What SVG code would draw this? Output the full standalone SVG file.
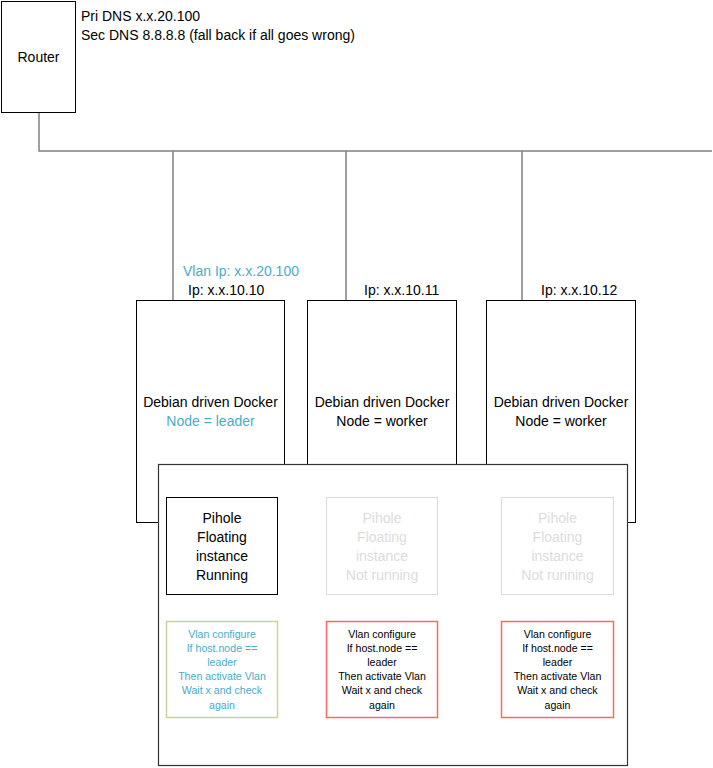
<svg xmlns="http://www.w3.org/2000/svg" width="713" height="768" viewBox="0 0 713 768">
<style>
text{font-family:"Liberation Sans",Arial,sans-serif;font-size:14px;fill:#000}
.c{text-anchor:middle}
.blue{fill:#4bacc6}
.dim{fill:#dcdcdc}
.box{fill:#fff;stroke:#000;stroke-width:1}
.wire{fill:none;stroke:#808080;stroke-width:1.5}
.sm{font-size:10.6px}
</style>
<rect width="713" height="768" fill="#fff"/>
<g id="connectors">
<polyline class="wire" points="39,113 39,151 712,151"/>
<line class="wire" x1="173" y1="151" x2="173" y2="300"/>
<line class="wire" x1="346" y1="151" x2="346" y2="300"/>
<line class="wire" x1="522" y1="151" x2="522" y2="300"/>
</g>
<g id="router">
<rect class="box" x="1.5" y="1.5" width="74" height="111"/>
<text class="c" x="38.5" y="62">Router</text>
</g>
<g id="dns-label">
<text x="81" y="21">Pri DNS x.x.20.100</text>
<text x="81" y="40">Sec DNS 8.8.8.8 (fall back if all goes wrong)</text>
</g>
<g id="docker1">
<rect class="box" x="136.5" y="300.5" width="148" height="222"/>
<text class="blue" x="183" y="276">Vlan Ip: x.x.20.100</text>
<text x="188" y="295">Ip: x.x.10.10</text>
<text class="c" x="210.5" y="407">Debian driven Docker</text>
<text class="c blue" x="210.5" y="426">Node = leader</text>
</g>
<g id="docker2">
<rect class="box" x="307.5" y="300.5" width="149" height="222"/>
<text x="364" y="295">Ip: x.x.10.11</text>
<text class="c" x="382" y="407">Debian driven Docker</text>
<text class="c" x="382" y="426">Node = worker</text>
</g>
<g id="docker3">
<rect class="box" x="486.5" y="300.5" width="149" height="222"/>
<text x="541" y="295">Ip: x.x.10.12</text>
<text class="c" x="561" y="407">Debian driven Docker</text>
<text class="c" x="561" y="426">Node = worker</text>
</g>
<g id="container">
<rect x="158.5" y="464.5" width="469" height="301" fill="#fff" stroke="#333" stroke-width="1.2"/>
</g>
<g id="pihole1">
<rect class="box" x="166.5" y="497.5" width="111" height="97"/>
<text class="c" x="222" y="523">Pihole</text>
<text class="c" x="222" y="542">Floating</text>
<text class="c" x="222" y="561">instance</text>
<text class="c" x="222" y="580">Running</text>
</g>
<g id="pihole2">
<rect x="326.5" y="497.5" width="111" height="97" fill="#fff" stroke="#dcdcdc"/>
<text class="c dim" x="382" y="523">Pihole</text>
<text class="c dim" x="382" y="542">Floating</text>
<text class="c dim" x="382" y="561">instance</text>
<text class="c dim" x="382" y="580">Not running</text>
</g>
<g id="pihole3">
<rect x="501.5" y="497.5" width="112" height="97" fill="#fff" stroke="#dcdcdc"/>
<text class="c dim" x="557.5" y="523">Pihole</text>
<text class="c dim" x="557.5" y="542">Floating</text>
<text class="c dim" x="557.5" y="561">instance</text>
<text class="c dim" x="557.5" y="580">Not running</text>
</g>
<g id="vlan1">
<rect x="166.5" y="621.5" width="111" height="96" fill="#fff" stroke="#c3d69b" stroke-width="1.5"/>
<text class="c sm blue" x="222" y="638">Vlan configure</text>
<text class="c sm blue" x="222" y="652">If host.node ==</text>
<text class="c sm blue" x="222" y="666">leader</text>
<text class="c sm blue" x="222" y="680">Then activate Vlan</text>
<text class="c sm blue" x="222" y="694">Wait x and check</text>
<text class="c sm blue" x="222" y="709">again</text>
</g>
<g id="vlan2">
<rect x="326.5" y="621.5" width="111" height="96" fill="#fff" stroke="#ff6666" stroke-width="1.5"/>
<text class="c sm" x="382" y="638">Vlan configure</text>
<text class="c sm" x="382" y="652">If host.node ==</text>
<text class="c sm" x="382" y="666">leader</text>
<text class="c sm" x="382" y="680">Then activate Vlan</text>
<text class="c sm" x="382" y="694">Wait x and check</text>
<text class="c sm" x="382" y="709">again</text>
</g>
<g id="vlan3">
<rect x="501.5" y="621.5" width="112" height="96" fill="#fff" stroke="#ff6666" stroke-width="1.5"/>
<text class="c sm" x="557.5" y="638">Vlan configure</text>
<text class="c sm" x="557.5" y="652">If host.node ==</text>
<text class="c sm" x="557.5" y="666">leader</text>
<text class="c sm" x="557.5" y="680">Then activate Vlan</text>
<text class="c sm" x="557.5" y="694">Wait x and check</text>
<text class="c sm" x="557.5" y="709">again</text>
</g>
</svg>
